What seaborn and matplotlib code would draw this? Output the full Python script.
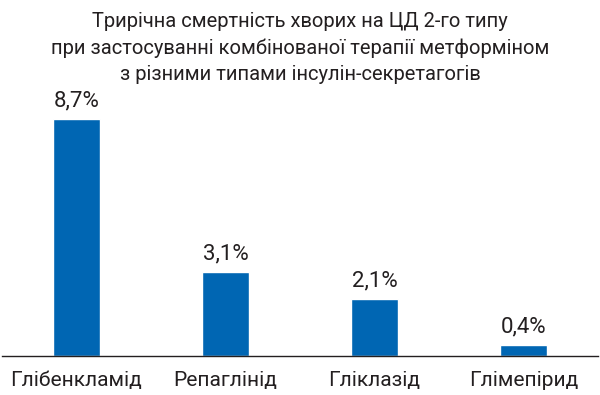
import matplotlib
matplotlib.use("Agg")
import matplotlib.pyplot as plt
import seaborn as sns
import pandas as pd

categories = ["Глібенкламід", "Репаглінід", "Гліклазід", "Глімепірид"]
values = [8.7, 3.1, 2.1, 0.4]
value_labels = ["8,7%", "3,1%", "2,1%", "0,4%"]
title = ("Трирічна смертність хворих на ЦД 2-го типу\n"
         "при застосуванні комбінованої терапії метформіном\n"
         "з різними типами інсулін-секретагогів")

sns.set_theme(style="white")
plt.rcParams['font.family'] = ['Roboto', 'DejaVu Sans']

df = pd.DataFrame({"cat": categories, "val": values})
fig = plt.figure(figsize=(6, 3.95), dpi=100)
ax = fig.add_axes([2/600, 1 - 356/395, 596/600, (356 - 90)/395])
sns.barplot(data=df, x="cat", y="val", color="#0066b3", width=0.315,
            saturation=1, ax=ax)
ax.set_xlim(-0.5, 3.5)
ax.set_ylim(0, 266/27.2)
for i, (v, lab) in enumerate(zip(values, value_labels)):
    ax.text(i, v + 0.28, lab, ha="center", va="bottom", fontsize=16, color="#231f20")
for s in ["top", "right", "left"]:
    ax.spines[s].set_visible(False)
ax.spines["bottom"].set_color("#231f20")
ax.spines["bottom"].set_linewidth(1)
ax.set_yticks([])
ax.set_xlabel("")
ax.set_ylabel("")
ax.tick_params(axis="x", length=0, pad=11, labelsize=15, labelcolor="#231f20")
fig.text(0.5, 1 - 48/395, title, ha="center", va="center", fontsize=14.5,
         color="#231f20", linespacing=1.45)
fig.savefig("out.png", dpi=100)
